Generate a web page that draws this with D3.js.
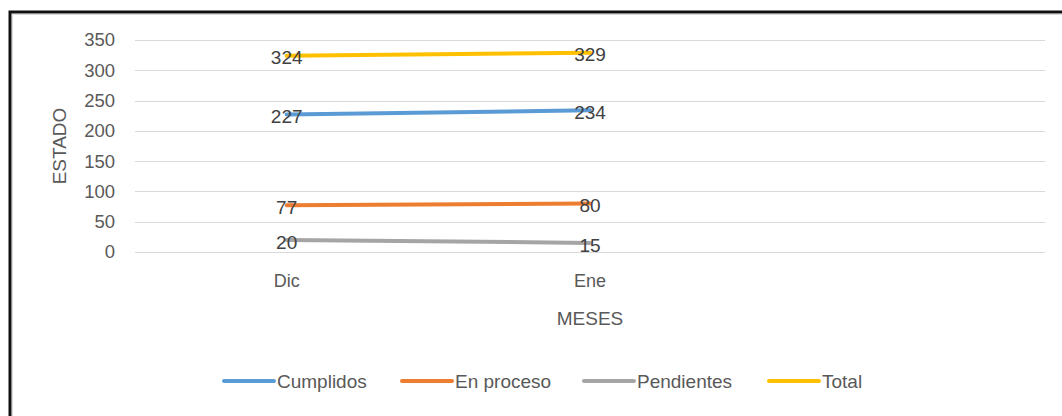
<!DOCTYPE html>
<html>
<head>
<meta charset="utf-8">
<script src="https://cdn.jsdelivr.net/npm/d3@7"></script>
<style>
  html, body { margin: 0; padding: 0; background: #fff; }
  svg { display: block; }
</style>
</head>
<body>
<svg id="chart" width="1062" height="416"></svg>
<script>
// ---- data ----
const categories = ["Dic", "Ene", ""];
const seriesNames = ["Cumplidos", "En proceso", "Pendientes", "Total"];
const cumplidos = [227, 234];
const enProceso = [77, 80];
const pendientes = [20, 15];
const total = [324, 329];
const yTicks = [0, 50, 100, 150, 200, 250, 300, 350];
const colors = ["#5B9BD5", "#ED7D31", "#A5A5A5", "#FFC000"];

const series = [
  { name: seriesNames[0], values: cumplidos, color: colors[0] },
  { name: seriesNames[1], values: enProceso, color: colors[1] },
  { name: seriesNames[2], values: pendientes, color: colors[2] },
  { name: seriesNames[3], values: total, color: colors[3] }
];

const svg = d3.select("#chart");
const font = "'Liberation Sans', Arial, sans-serif";

// frame (top and left edges visible)
svg.append("path")
  .attr("d", "M10,416 L10,12 L1062,12")
  .attr("fill", "none")
  .attr("stroke", "#111")
  .attr("stroke-width", 3);
svg.append("path")
  .attr("d", "M12.5,416 L12.5,14.5 L1062,14.5")
  .attr("fill", "none")
  .attr("stroke", "#ddd")
  .attr("stroke-width", 1);

const plot = { left: 135, right: 1045, top: 40, bottom: 252 };

const x = d3.scaleBand().domain(categories).range([plot.left, plot.right]);
const y = d3.scaleLinear().domain([0, 350]).range([plot.bottom, plot.top]);
const cx = c => x(c) + x.bandwidth() / 2;

// gridlines
svg.append("g")
  .selectAll("line")
  .data(yTicks)
  .join("line")
  .attr("x1", plot.left).attr("x2", plot.right)
  .attr("y1", d => Math.round(y(d)) + 0.5).attr("y2", d => Math.round(y(d)) + 0.5)
  .attr("stroke", "#d9d9d9").attr("stroke-width", 1);

// y axis labels
const yAxis = d3.axisLeft(y).tickValues(yTicks).tickSize(0).tickPadding(0);
const gy = svg.append("g").attr("transform", `translate(${plot.left - 20},0)`).call(yAxis);
gy.select(".domain").remove();
gy.selectAll("text")
  .attr("font-family", font).attr("font-size", 18.5).attr("fill", "#595959");

// x axis labels
const xAxis = d3.axisBottom(x).tickSize(0).tickPadding(0);
const gx = svg.append("g").attr("transform", `translate(0,${plot.bottom + 22})`).call(xAxis);
gx.select(".domain").remove();
gx.selectAll("text")
  .attr("font-family", font).attr("font-size", 18).attr("fill", "#595959");

// axis titles
svg.append("text")
  .attr("transform", `translate(66,${(plot.top + plot.bottom) / 2}) rotate(-90)`)
  .attr("text-anchor", "middle")
  .attr("font-family", font).attr("font-size", 19).attr("fill", "#595959")
  .text("ESTADO");
svg.append("text")
  .attr("x", cx("Ene")).attr("y", 325)
  .attr("text-anchor", "middle")
  .attr("font-family", font).attr("font-size", 19).attr("fill", "#595959")
  .text("MESES");

// lines
const months = categories.slice(0, 2);
const line = d3.line()
  .x((d, i) => cx(months[i]))
  .y(d => y(d));

svg.append("g")
  .selectAll("path")
  .data(series)
  .join("path")
  .attr("d", s => line(s.values))
  .attr("fill", "none")
  .attr("stroke", s => s.color)
  .attr("stroke-width", 4)
  .attr("stroke-linecap", "round");

// data labels
const labels = [];
series.forEach(s => s.values.forEach((v, i) => labels.push({ v, c: months[i] })));
svg.append("g")
  .selectAll("text")
  .data(labels)
  .join("text")
  .attr("x", d => cx(d.c))
  .attr("y", d => y(d.v) + 2)
  .attr("dy", "0.35em")
  .attr("text-anchor", "middle")
  .attr("font-family", font).attr("font-size", 19).attr("fill", "#404040")
  .text(d => d.v);

// legend
const legendX = [224, 402, 584, 769];
const legendY = 381;
const lg = svg.append("g")
  .selectAll("g")
  .data(series)
  .join("g")
  .attr("transform", (d, i) => `translate(${legendX[i]},${legendY})`);
lg.append("line")
  .attr("x1", 0).attr("x2", 50).attr("y1", 0).attr("y2", 0)
  .attr("stroke", d => d.color).attr("stroke-width", 4).attr("stroke-linecap", "round");
lg.append("text")
  .attr("x", 53).attr("y", 0).attr("dy", "0.35em")
  .attr("font-family", font).attr("font-size", 19).attr("fill", "#595959")
  .text(d => d.name);
</script>
</body>
</html>
